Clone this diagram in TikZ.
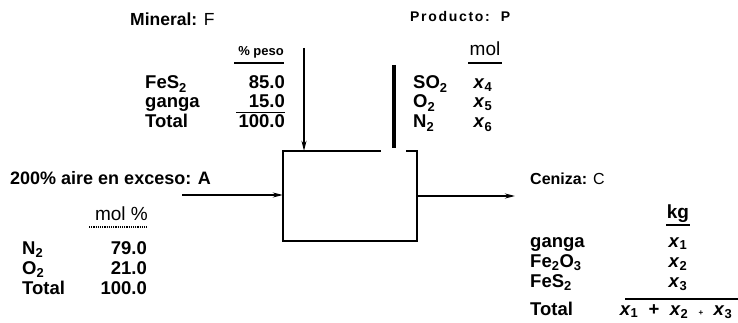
\documentclass[tikz,border=0pt]{standalone}
\usepackage{fontspec}
\setmainfont{Liberation Sans}
\usetikzlibrary{arrows.meta,calc}

\begin{document}
\begin{tikzpicture}[
  x=1pt, y=-1pt,
  txt/.style={inner sep=0pt, font=\fontsize{18.5}{20}\selectfont\bfseries},
  lbl/.style={txt, anchor=base west},
  num/.style={txt, anchor=base east},
  var/.style={txt, anchor=base},
  heading/.style={inner sep=0pt, anchor=base west, font=\fontsize{17.5}{20}\selectfont},
  rule/.style={line width=1.2pt},
  flow/.style={->, line width=2.4pt},
  >={Stealth[length=10pt,width=5pt]}
]
  \useasboundingbox (0,0) rectangle (738,323);

  % the reactor
  \node[minimum width=134pt, minimum height=90pt, inner sep=0pt] (reactor) at (350,196) {};
  \draw[line width=1.6pt] ($(reactor.north west)+(98,0)$) -- (reactor.north west)
    -- (reactor.south west) -- (reactor.south east) -- (reactor.north east)
    -- ($(reactor.north east)+(-11,0)$);

  % streams
  \coordinate (feedin) at (304,48);
  \coordinate (prodtop) at (394,65);
  \coordinate (prodbot) at (394,148);
  \coordinate (airin) at (182,195);
  \coordinate (ashout) at (515,196);
  \draw[->, line width=1.6pt] (feedin) -- (feedin |- reactor.north);
  \draw[line width=4.5pt] (prodtop) -- (prodbot);
  \draw[flow] (airin) -- (airin -| reactor.west);
  \draw[flow] (reactor.east |- ashout) -- (ashout);

  % mineral feed
  \node[heading] (mineral) at (130,26) {\textbf{Mineral:} F};
  \node[txt, font=\fontsize{13}{14}\selectfont\bfseries, anchor=base east] (peso) at (284,56) {\% peso};
  \draw[rule] (234,63) -- (284,63);
  \node[lbl] (fesF) at (145,89) {FeS\textsubscript{2}};
  \node[num] (fesFval) at (285,89) {85.0};
  \node[lbl] (gangaF) at (145,108) {ganga};
  \node[num] (gangaFval) at (285,108) {15.0};
  \node[lbl] (totF) at (145,128) {Total};
  \node[num] (totFval) at (285,128) {100.0};
  \draw[rule] (236,112.5) -- (285,112.5);

  % product gas
  \node[heading, font=\fontsize{14}{16}\selectfont\bfseries\addfontfeature{LetterSpace=12}] (producto) at (410,22) {Producto:\ \ P};
  \node[var, font=\fontsize{19}{20}\selectfont] (molP) at (485,56) {mol};
  \draw[rule] (468,63) -- (502,63);
  \node[lbl] (so2P) at (413,89) {SO\textsubscript{2}};
  \node[var] (x4) at (483,89) {\textit{x}\textsubscript{4}};
  \node[lbl] (o2P) at (413,108) {O\textsubscript{2}};
  \node[var] (x5) at (483,108) {\textit{x}\textsubscript{5}};
  \node[lbl] (n2P) at (413,128) {N\textsubscript{2}};
  \node[var] (x6) at (483,128) {\textit{x}\textsubscript{6}};

  % air
  \node[heading, font=\fontsize{18}{20}\selectfont\bfseries] (aire) at (10,184) {200\% aire en exceso: A};
  \node[txt, font=\fontsize{19}{20}\selectfont, anchor=base east] (molA) at (148,220) {mol \%};
  \draw[rule, densely dotted] (89,227) -- (148,227);
  \node[lbl] (n2A) at (22,254) {N\textsubscript{2}};
  \node[num] (n2Aval) at (147,254) {79.0};
  \node[lbl] (o2A) at (22,274) {O\textsubscript{2}};
  \node[num] (o2Aval) at (147,274) {21.0};
  \node[lbl] (totA) at (22,294) {Total};
  \node[num] (totAval) at (147,294) {100.0};

  % ash
  \node[heading, font=\fontsize{16}{18}\selectfont] (ceniza) at (530,184) {\textbf{Ceniza:} C};
  \node[var, font=\fontsize{19}{20}\selectfont\bfseries] (kgC) at (678,218) {kg};
  \draw[rule] (666,225) -- (690,225);
  \node[lbl] (gangaC) at (530,247) {ganga};
  \node[var] (x1) at (678,247) {\textit{x}\textsubscript{1}};
  \node[lbl] (fe2o3C) at (530,267) {Fe\textsubscript{2}O\textsubscript{3}};
  \node[var] (x2) at (678,267) {\textit{x}\textsubscript{2}};
  \node[lbl] (fes2C) at (530,287) {FeS\textsubscript{2}};
  \node[var] (x3) at (678,287) {\textit{x}\textsubscript{3}};
  \draw[line width=1.5pt] (625,299) -- (738,299);
  \node[lbl] (totC) at (530,315) {Total};
  \node[var] (sumC) at (676,315) {\textit{x}\textsubscript{1}\ \ +\ \ \textit{x}\textsubscript{2}\ \ {\footnotesize+}\ \ \textit{x}\textsubscript{3}};
\end{tikzpicture}
\end{document}
